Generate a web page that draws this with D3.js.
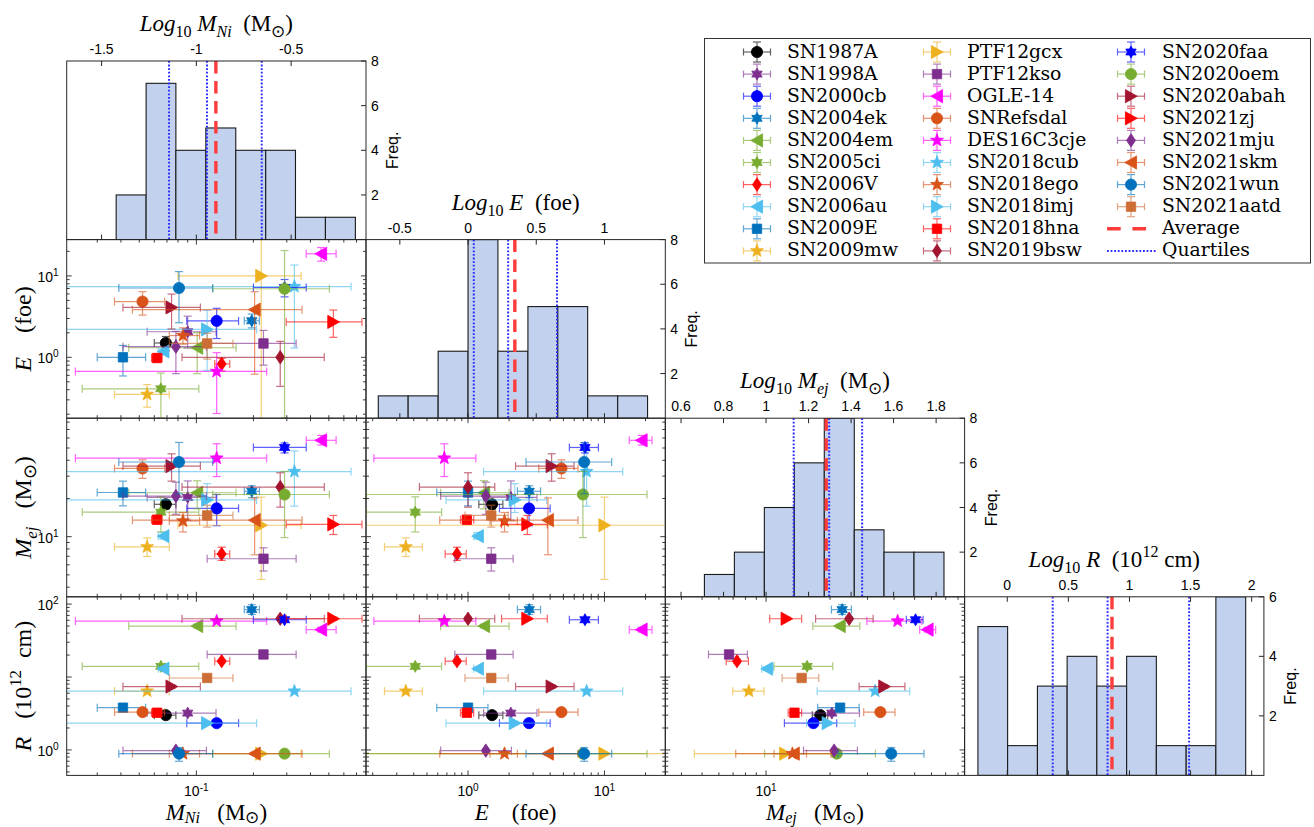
<!DOCTYPE html>
<html><head><meta charset="utf-8">
<script src="https://cdn.jsdelivr.net/npm/d3@7"></script>
<style>body{margin:0;background:#fff;}svg{display:block;}</style>
</head><body>
<svg id="c" width="1314" height="827"></svg>
<script>
// ---------------- DATA ----------------
const names = ["SN1987A","SN1998A","SN2000cb","SN2004ek","SN2004em","SN2005ci","SN2006V","SN2006au","SN2009E","SN2009mw",
  "PTF12gcx","PTF12kso","OGLE-14","SNRefsdal","DES16C3cje","SN2018cub","SN2018ego","SN2018imj","SN2018hna","SN2019bsw",
  "SN2020faa","SN2020oem","SN2020abah","SN2021zj","SN2021mju","SN2021skm","SN2021wun","SN2021aatd"];
const colors = ["#000000","#7E2F8E","#0000FF","#0072BD","#77AC30","#77AC30","#FF0000","#4DBEEE","#0072BD","#EDB120",
  "#EDB120","#7E2F8E","#FF00FF","#D95319","#FF00FF","#4DBEEE","#D95319","#4DBEEE","#FF0000","#A2142F",
  "#0000FF","#77AC30","#A2142F","#FF0000","#7E2F8E","#D95319","#0072BD","#CD6E37"];
const markers = ["o","h","o","h","<","h","d","<","s","p",
  ">","s","<","o","p","p","p",">","s","d",
  "h","o",">",">","d","<","o","s"];
// Nickel mass (Msun)
const mNi   = [0.069,0.090,0.128,0.196,0.101,0.065,0.136,0.067,0.041,0.055,0.220,0.226,0.455,0.052,0.128,0.329,0.085,0.114,0.062,0.277,0.292,0.292,0.074,0.528,0.078,0.203,0.081,0.114];
const mNiLo = [0.060,0.055,0.089,0.179,0.044,0.025,0.125,0.063,0.030,0.037,0.080,0.114,0.380,0.037,0.023,0.010,0.072,0.010,0.058,0.084,0.200,0.122,0.041,0.298,0.041,0.046,0.039,0.072];
const mNiHi = [0.078,0.127,0.167,0.215,0.162,0.103,0.150,0.071,0.054,0.072,0.357,0.336,0.546,0.068,0.235,0.655,0.104,0.208,0.066,0.473,0.380,0.503,0.105,0.748,0.113,0.361,0.122,0.156];
// Explosion energy (foe)
const energy = [1.50,2.06,2.80,2.81,1.31,0.41,0.83,1.18,1.00,0.35,10.0,1.48,18.7,4.84,0.67,7.40,1.85,2.20,0.98,1.00,7.20,6.95,4.10,2.72,1.35,3.85,7.10,1.48];
const eLo    = [1.20,1.30,1.70,2.30,0.63,0.18,0.68,1.10,0.59,0.244,0.05,0.80,15.2,3.30,0.204,1.30,1.45,0.69,0.88,0.44,5.53,0.18,2.23,1.76,0.63,0.62,2.66,0.95];
const eHi    = [1.80,3.20,4.00,3.40,2.00,0.64,0.97,1.27,1.40,0.462,60,2.14,22.3,6.40,1.14,13.6,2.30,3.77,1.10,1.57,9.03,20.5,5.98,3.81,2.08,6.40,11.3,1.97];
// Ejecta mass (Msun)
const mEj   = [18.0,20.4,16.7,22.8,22.2,15.6,7.3,10.1,22.3,8.3,12.3,6.7,57.5,34.5,41.6,32.6,13.3,19.5,13.6,24.6,50.5,21.5,36.0,12.5,20.9,13.5,38.8,14.7];
const mEjLo = [16.5,13.5,12.2,20.3,16.6,10.9,6.5,9.55,17.5,6.98,4.6,5.36,52.8,28.8,29.8,17.4,10.9,15.5,12.7,17.1,45.7,9.84,27.4,10.4,15.0,7.2,21.8,11.9];
const mEjHi = [19.5,27.5,21.5,25.2,27.6,20.6,8.26,10.8,27.4,9.78,20.5,8.17,62.8,40.4,54.0,47.4,15.5,26.2,14.7,31.9,54.8,32.7,45.0,14.7,26.9,20.2,55.3,17.7];
// Radius (1e12 cm)
const radius = [3.0,3.2,2.33,84,50,14.0,16.5,13.0,3.8,6.4,0.89,20.4,44.6,3.3,58.5,6.4,0.89,2.33,3.24,63,61,0.89,7.4,63,0.98,0.89,0.89,9.7];
const rLo    = [2.85,3.05,2.2,72,47,13.3,15.6,12.3,3.55,6.05,0.85,19.4,41.5,3.12,55,6.05,0.85,2.2,3.08,60,58,0.85,7.0,60,0.94,0.85,0.70,9.2];
const rHi    = [3.15,3.35,2.46,98,53,14.7,17.4,13.7,4.05,6.75,0.93,21.4,48,3.48,62,6.75,0.93,2.46,3.4,66,64,0.93,7.8,66,1.02,0.93,1.08,10.2];

// Histograms (log10 bin edges and counts)
const niEdges  = [-1.423,-1.265,-1.108,-0.950,-0.792,-0.634,-0.477,-0.319,-0.161];
const niCounts = [2,7,4,5,4,4,1,1];
const eEdges   = [-0.658,-0.439,-0.219,0,0.219,0.439,0.658,0.877,1.097,1.316];
const eCounts  = [1,1,3,8,3,5,5,1,1];
const mejEdges = [0.710,0.851,0.992,1.133,1.274,1.415,1.555,1.696,1.837];
const mejCounts= [1,2,4,6,8,3,2,2];
const rEdges   = [-0.240,0.003,0.247,0.490,0.733,0.977,1.220,1.464,1.707,1.951];
const rCounts  = [5,1,3,4,3,4,1,1,6];
const niQuart  = [-1.144,-0.944,-0.655], niAvg = -0.897;
const eQuart   = [0.042,0.294,0.652],    eAvg  = 0.343;
const mejQuart = [1.130,1.297,1.452],    mejAvg= 1.283;
const rQuart   = [0.372,0.821,1.488],    rAvg  = 0.857;
// axis ranges (log10) and tick labels
const niDomain  = [-1.684,-0.105];
const eDomain   = [-0.748,1.446];
const mejDomain = [0.526,1.934];
const rDomain   = [-0.349,2.100];
const niTopTicks  = [-1.5,-1,-0.5];
const eTopTicks   = [-0.5,0,0.5,1];
const mejTopTicks = [0.6,0.8,1,1.2,1.4,1.6,1.8];
const rTopTicks   = [0,0.5,1,1.5,2];
const freqTicks8 = [2,4,6,8], freqTicks6 = [2,4,6];

// ---------------- SETUP ----------------
const SERIF = "'Liberation Serif','Times New Roman',Times,serif";
const LEGF  = "'DejaVu Serif','Liberation Serif',serif";
const SANS  = "'Liberation Sans',Arial,Helvetica,sans-serif";
const AX = "#262626";
const svg = d3.select('#c');
const L = 66.7, T = 61, CW = 299.3, RH = 178.6;

const vars = [
  {val:mNi, lo:mNiLo, hi:mNiHi, dom:niDomain, edges:niEdges, counts:niCounts, q:niQuart, avg:niAvg, top:niTopTicks, ymax:8, fticks:freqTicks8},
  {val:energy, lo:eLo, hi:eHi, dom:eDomain, edges:eEdges, counts:eCounts, q:eQuart, avg:eAvg, top:eTopTicks, ymax:8, fticks:freqTicks8},
  {val:mEj, lo:mEjLo, hi:mEjHi, dom:mejDomain, edges:mejEdges, counts:mejCounts, q:mejQuart, avg:mejAvg, top:mejTopTicks, ymax:8, fticks:freqTicks8},
  {val:radius, lo:rLo, hi:rHi, dom:rDomain, edges:rEdges, counts:rCounts, q:rQuart, avg:rAvg, top:rTopTicks, ymax:6, fticks:freqTicks6}
];
const cx = i => L + i*CW, ry = j => T + j*RH;
const xLog = vars.map((v,i)=>d3.scaleLog().domain(v.dom.map(d=>10**d)).range([cx(i), cx(i)+CW]));
const yLog = vars.map((v,j)=>d3.scaleLog().domain(v.dom.map(d=>10**d)).range([ry(j)+RH, ry(j)]));
const xLin = vars.map((v,i)=>d3.scaleLinear().domain(v.dom).range([cx(i), cx(i)+CW]));
const hY   = vars.map((v,i)=>d3.scaleLinear().domain([0,v.ymax]).range([ry(i)+RH, ry(i)]));

const defs = svg.append('defs');
function clip(id,x,y,w,h){ defs.append('clipPath').attr('id',id).append('rect').attr('x',x).attr('y',y).attr('width',w).attr('height',h); return `url(#${id})`; }

function markerPath(t){
  switch(t){
    case 'o': { const r=5.6; return `M${r},0A${r},${r} 0 1,1 ${-r},0A${r},${r} 0 1,1 ${r},0Z`; }
    case 's': return 'M-4.7,-4.7L4.7,-4.7L4.7,4.7L-4.7,4.7Z';
    case 'd': return 'M0,-6.7L4.5,0L0,6.7L-4.5,0Z';
    case '<': return 'M-6.2,0L5.6,-6.6L5.6,6.6Z';
    case '>': return 'M6.2,0L-5.6,-6.6L-5.6,6.6Z';
    case 'p': { let p=[]; for(let k=0;k<10;k++){const r=k%2?2.8:6.8; const a=-Math.PI/2+k*Math.PI/5; p.push([r*Math.cos(a),r*Math.sin(a)]);} return 'M'+p.map(q=>q.map(v=>v.toFixed(2)).join(',')).join('L')+'Z'; }
    case 'h': { let p=[]; for(let k=0;k<12;k++){const r=k%2?3.4:6.0; const a=-Math.PI/2+k*Math.PI/6; p.push([r*Math.cos(a),r*Math.sin(a)]);} return 'M'+p.map(q=>q.map(v=>v.toFixed(2)).join(',')).join('L')+'Z'; }
  }
}

function rich(parent,x,y,parts,size,family,anchor,rotate){
  const t = parent.append('text').attr('x',x).attr('y',y).attr('font-size',size)
    .attr('font-family',family).attr('text-anchor',anchor||'middle').attr('fill','#000');
  if(rotate) t.attr('transform',`rotate(-90 ${x} ${y})`);
  let cur=0;
  parts.forEach(p=>{
    const off = p.sub ? size*(p.so||0.26) : (p.sup ? -size*0.42 : 0);
    const ts = t.append('tspan').text(p.t).attr('dy',(off-cur).toFixed(2));
    cur = off;
    if(p.sub||p.sup) ts.attr('font-size',size*(p.sc||0.7));
    if(p.it) ts.attr('font-style','italic');
  });
  return t;
}
function logTicks(dom){
  const out=[];
  for(let k=Math.floor(dom[0]);k<=Math.ceil(dom[1]);k++){
    for(let m=1;m<=9;m++){ const v=m*10**k; const lv=Math.log10(v); if(lv>=dom[0]-1e-9&&lv<=dom[1]+1e-9) out.push({v, major:m===1}); }
  }
  return out;
}
function drawLine(g,x1,y1,x2,y2,stroke,w){ g.append('line').attr('x1',x1).attr('y1',y1).attr('x2',x2).attr('y2',y2).attr('stroke',stroke).attr('stroke-width',w||1); }

// ---------------- HISTOGRAMS ----------------
vars.forEach((v,i)=>{
  const x0=cx(i), y0=ry(i);
  const g = svg.append('g').attr('clip-path',clip('hc'+i,x0,y0,CW,RH));
  v.counts.forEach((c,b)=>{
    const xa=xLin[i](v.edges[b]), xb=xLin[i](v.edges[b+1]);
    g.append('rect').attr('x',xa).attr('y',hY[i](c)).attr('width',xb-xa).attr('height',hY[i](0)-hY[i](c))
      .attr('fill','#C2D2EE').attr('stroke','#1a1a1a').attr('stroke-width',1.1);
  });
  g.append('line').attr('x1',xLin[i](v.avg)).attr('x2',xLin[i](v.avg)).attr('y1',y0).attr('y2',y0+RH)
    .attr('stroke','#FF3C3C').attr('stroke-width',3.4).attr('stroke-dasharray','12.5 7.5');
  v.q.forEach(q=>{
    g.append('line').attr('x1',xLin[i](q)).attr('x2',xLin[i](q)).attr('y1',y0).attr('y2',y0+RH)
      .attr('stroke','#2B2BFF').attr('stroke-width',2).attr('stroke-dasharray','1.8 1.8');
  });
  const a = svg.append('g');
  v.top.forEach(t=>{
    const x=xLin[i](t);
    drawLine(a,x,y0,x,y0+5,AX); drawLine(a,x,y0+RH,x,y0+RH-5,AX);
    a.append('text').attr('x',x).attr('y',y0-7).attr('text-anchor','middle').attr('font-family',SANS).attr('font-size',14).text(t);
  });
  v.fticks.forEach(t=>{
    const y=hY[i](t);
    drawLine(a,x0+CW,y,x0+CW-5,y,AX);
    a.append('text').attr('x',x0+CW+5).attr('y',y+5).attr('font-family',SANS).attr('font-size',14).text(t);
  });
  a.append('text').attr('transform',`translate(${x0+CW+32},${y0+RH/2}) rotate(-90)`).attr('text-anchor','middle')
    .attr('font-family',SANS).attr('font-size',16).text('Freq.');
  a.append('rect').attr('x',x0).attr('y',y0).attr('width',CW).attr('height',RH).attr('fill','none').attr('stroke',AX).attr('stroke-width',1);
});

// ---------------- SCATTER PANELS ----------------
for(let j=1;j<4;j++){
  for(let i=0;i<j;i++){
    const x0=cx(i), y0=ry(j), vx=vars[i], vy=vars[j];
    const g = svg.append('g').attr('clip-path',clip(`sc${i}${j}`,x0,y0,CW,RH));
    names.forEach((n,k)=>{
      const col=colors[k];
      const x=xLog[i](vx.val[k]), y=yLog[j](vy.val[k]);
      const xl=xLog[i](vx.lo[k]), xh=xLog[i](vx.hi[k]);
      const yl=yLog[j](vy.lo[k]), yh=yLog[j](vy.hi[k]);
      const e=g.append('g').attr('opacity',0.62);
      drawLine(e,xl,y,xh,y,col,1.2); drawLine(e,xl,y-4,xl,y+4,col,1.2); drawLine(e,xh,y-4,xh,y+4,col,1.2);
      drawLine(e,x,yl,x,yh,col,1.2); drawLine(e,x-4,yl,x+4,yl,col,1.2); drawLine(e,x-4,yh,x+4,yh,col,1.2);
      g.append('path').attr('d',markerPath(markers[k])).attr('transform',`translate(${x},${y})`)
        .attr('fill',col).attr('stroke',col).attr('stroke-width',0.8);
    });
    const a=svg.append('g');
    logTicks(vx.dom).forEach(t=>{ const x=xLog[i](t.v), len=t.major?5:3;
      drawLine(a,x,y0+RH,x,y0+RH-len,AX,0.9); drawLine(a,x,y0,x,y0+len,AX,0.9); });
    logTicks(vy.dom).forEach(t=>{ const y=yLog[j](t.v), len=t.major?5:3;
      drawLine(a,x0,y,x0+len,y,AX,0.9); drawLine(a,x0+CW,y,x0+CW-len,y,AX,0.9); });
    a.append('rect').attr('x',x0).attr('y',y0).attr('width',CW).attr('height',RH).attr('fill','none').attr('stroke',AX).attr('stroke-width',1);
  }
}

// ---------------- TICK LABELS (10^k) ----------------
const leftLabels = [[1,[1,10]],[2,[10]],[3,[1,100]]];
leftLabels.forEach(([j,vals])=>{
  vals.forEach(v=>{
    rich(svg, L-8, yLog[j](v)+6, [{t:'10'},{t:String(Math.round(Math.log10(v))),sup:true,sc:0.72}], 14, SANS, 'end');
  });
});
const bottomLabels = [[0,[0.1]],[1,[1,10]],[2,[10]]];
bottomLabels.forEach(([i,vals])=>{
  vals.forEach(v=>{
    rich(svg, xLog[i](v), T+4*RH+21, [{t:'10'},{t:String(Math.round(Math.log10(v))),sup:true,sc:0.72}], 14, SANS, 'middle');
  });
});

// ---------------- AXIS TITLES ----------------
const NB='\u00a0';
const MSUN2 = [{t:NB+NB+'(M'},{t:'\u2299',sub:true,sc:0.75},{t:')'}];
const MSUN3 = [{t:NB+NB+NB+'(M'},{t:'\u2299',sub:true,sc:0.75,so:0.2},{t:')'}];
const MSUNB = [{t:NB+NB+NB+'(M'},{t:'\u2299',sub:true,sc:0.75,so:0.12},{t:')'}];
const topTitles = [
  [{t:'Log',it:true},{t:'10',sub:true},{t:NB+'M',it:true},{t:'Ni',it:true,sub:true},...MSUN2],
  [{t:'Log',it:true},{t:'10',sub:true},{t:NB+'E',it:true},{t:NB+NB+'(foe)'}],
  [{t:'Log',it:true},{t:'10',sub:true},{t:NB+'M',it:true},{t:'ej',it:true,sub:true},...MSUN2],
  [{t:'Log',it:true},{t:'10',sub:true},{t:NB+'R',it:true},{t:NB+NB+'(10'},{t:'12',sup:true},{t:NB+'cm)'}]
];
topTitles.forEach((p,i)=>rich(svg, cx(i)+CW/2, ry(i)-30, p, 23, SERIF, 'middle'));
const sideTitles = [
  [{t:'E',it:true},{t:NB+NB+NB+NB+'(foe)'}],
  [{t:'M',it:true},{t:'ej',it:true,sub:true},...MSUN3],
  [{t:'R',it:true},{t:NB+NB+NB+'(10'},{t:'12',sup:true},{t:NB+NB+'cm)'}]
];
sideTitles.forEach((p,k)=>rich(svg, 31, ry(k+1)+RH/2, p, 24, SERIF, 'middle', true));
const bottomTitles = [
  [{t:'M',it:true},{t:'Ni',it:true,sub:true,so:0.12},...MSUNB],
  [{t:'E',it:true},{t:NB+NB+NB+NB+'(foe)'}],
  [{t:'M',it:true},{t:'ej',it:true,sub:true,so:0.12},...MSUNB]
];
bottomTitles.forEach((p,i)=>rich(svg, cx(i)+CW/2, 820, p, 23, SERIF, 'middle'));

// ---------------- LEGEND ----------------
const lg = svg.append('g');
lg.append('rect').attr('x',704.5).attr('y',38.5).attr('width',606).attr('height',224.5).attr('fill','#fff').attr('stroke','#333').attr('stroke-width',1);
const legMarkX=[757,937,1131], legTextX=[787,967,1162];
const rowY = r => 52 + r*22.1;
const LFS = 18.8;
names.forEach((n,k)=>{
  const c=Math.floor(k/10), r=k%10, mx=legMarkX[c], my=rowY(r), col=colors[k];
  const e=lg.append('g').attr('opacity',0.62);
  drawLine(e,mx-13.5,my,mx+13.5,my,col,1.2); drawLine(e,mx-13.5,my-3.5,mx-13.5,my+3.5,col,1.2); drawLine(e,mx+13.5,my-3.5,mx+13.5,my+3.5,col,1.2);
  drawLine(e,mx,my-10,mx,my+10,col,1.2); drawLine(e,mx-4,my-10,mx+4,my-10,col,1.2); drawLine(e,mx-4,my+10,mx+4,my+10,col,1.2);
  lg.append('path').attr('d',markerPath(markers[k])).attr('transform',`translate(${mx},${my})`).attr('fill',col).attr('stroke',col).attr('stroke-width',0.8);
  lg.append('text').attr('x',legTextX[c]).attr('y',my+5.5).attr('font-family',LEGF).attr('font-size',LFS).text(n);
});
lg.append('line').attr('x1',1107).attr('x2',1147).attr('y1',rowY(8)).attr('y2',rowY(8)).attr('stroke','#FF3C3C').attr('stroke-width',3.4).attr('stroke-dasharray','13.7 11.7');
lg.append('text').attr('x',legTextX[2]).attr('y',rowY(8)+5.5).attr('font-family',LEGF).attr('font-size',LFS).text('Average');
lg.append('line').attr('x1',1107).attr('x2',1157).attr('y1',rowY(9)).attr('y2',rowY(9)).attr('stroke','#2B2BFF').attr('stroke-width',2).attr('stroke-dasharray','1.8 1.8');
lg.append('text').attr('x',legTextX[2]).attr('y',rowY(9)+5.5).attr('font-family',LEGF).attr('font-size',LFS).text('Quartiles');
</script>
</body></html>
